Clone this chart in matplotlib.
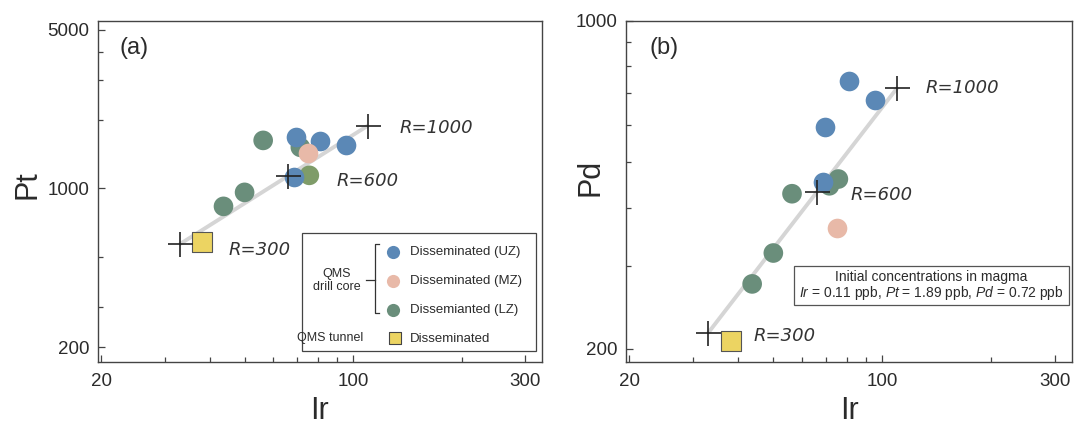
import matplotlib
matplotlib.use("Agg")
import matplotlib.pyplot as plt
from matplotlib.patches import Rectangle
from matplotlib.lines import Line2D
from matplotlib.ticker import NullFormatter

plt.rcParams["font.family"] = ["Liberation Sans", "DejaVu Sans"]
plt.rcParams["mathtext.fontset"] = "custom"
plt.rcParams["mathtext.rm"] = "Liberation Sans"
plt.rcParams["mathtext.it"] = "Liberation Sans:italic"

# ── データ ──────────────────────────────────────
IR_UZ = [69.3, 80.8, 95.3, 68.7]
PT_UZ = [1678, 1611, 1546, 1118]
PD_UZ = [594, 745, 679, 454]

IR_MZ = [74.8]
PT_MZ = [1426]
PD_MZ = [362]

IR_LZ = [43.7, 50.0, 56.3, 71.4, 75.6]
PT_LZ = [833, 960, 1626, 1516, 1141]
PD_LZ = [275, 320, 428, 445, 460]

IR_TUN = [38.2]
PT_TUN = [578]
PD_TUN = [208]

# R-factor モデル曲線
R_LABELS = ["R=300", "R=600", "R=1000"]
IR_R = [33, 66, 110]
PT_R = [567, 1134, 1890]
PD_R = [216, 432, 720]

X_TICKS = [20, 100, 300]
X_MINOR = [30, 40, 50, 60, 70, 80, 90, 200]
PT_TICKS = [200, 1000, 5000]
PT_MINOR = [300, 500, 2000, 3000, 4000]
PD_TICKS = [200, 1000]
PD_MINOR = [300, 400, 500, 600, 700, 800, 900]

# ── スタイル ─────────────────────────────────────────
C_UZ = "#5b88b6"
C_MZ = "#e8b9a8"
C_LZ = "#6a8e7b"
C_OLIVE = "#7f9c69"
C_TUN = "#ecd462"
C_LINE = "#d5d5d5"
C_TXT = "#2b2b2b"
LZ_COLORS_A = [C_LZ, C_LZ, C_LZ, C_LZ, C_OLIVE]
LZ_COLORS_B = [C_LZ] * 5
S_PT = 200
R_OFFS_A = [(35, -4), (35, -4), (23, -2)]
R_OFFS_B = [(33, -2), (24, -2), (20, 0)]

fig = plt.figure(figsize=(10.74, 4.29), dpi=100)
ax_a = fig.add_axes([0.0912, 0.1562, 0.4134, 0.7955])
ax_b = fig.add_axes([0.5829, 0.1562, 0.4153, 0.7955])


def draw_panel(ax, yu, ym, yl, yt, yr, lz_colors, r_offs):
    ax.set_xscale("log")
    ax.set_yscale("log")
    ax.plot(IR_R, yr, color=C_LINE, lw=2.8, zorder=2, solid_capstyle="butt")
    ax.scatter(IR_LZ, yl, s=S_PT, c=lz_colors, linewidths=0, zorder=3)
    ax.scatter(IR_UZ, yu, s=S_PT, c=C_UZ, linewidths=0, zorder=4)
    ax.scatter(IR_MZ, ym, s=S_PT, c=C_MZ, linewidths=0, zorder=5)
    ax.scatter(IR_TUN, yt, s=S_PT, c=C_TUN, marker="s",
               edgecolors="#555555", linewidths=0.8, zorder=5)
    ax.plot(IR_R, yr, ls="none", marker="+", ms=18, mew=1.2,
            color="#222222", zorder=6)
    for lab, x, y, off in zip(R_LABELS, IR_R, yr, r_offs):
        ax.annotate(lab, (x, y), xytext=off, textcoords="offset points",
                    ha="left", va="center", fontsize=13, style="italic",
                    family="DejaVu Sans", color="#333333")
    ax.set_xlim(19.6, 334)
    ax.set_xticks(X_TICKS)
    ax.set_xticklabels([str(v) for v in X_TICKS])
    ax.set_xticks(X_MINOR, minor=True)
    ax.xaxis.set_minor_formatter(NullFormatter())
    ax.tick_params(which="both", direction="in", colors="#444444",
                   labelcolor=C_TXT, labelsize=13.5, width=0.9)
    ax.tick_params(which="major", length=5)
    ax.tick_params(which="minor", length=3.5)
    ax.tick_params(axis="x", pad=8)
    ax.tick_params(axis="y", pad=6)
    ax.set_xlabel("Ir", fontsize=22, color=C_TXT, va="top")
    ax.xaxis.set_label_coords(0.5, -0.10)
    for sp in ax.spines.values():
        sp.set_color("#444444")
        sp.set_linewidth(1.0)


draw_panel(ax_a, PT_UZ, PT_MZ, PT_LZ, PT_TUN, PT_R, LZ_COLORS_A, R_OFFS_A)
ax_a.set_ylim(172, 5470)
ax_a.set_yticks(PT_TICKS)
ax_a.set_yticklabels([str(v) for v in PT_TICKS])
ax_a.set_yticks(PT_MINOR, minor=True)
ax_a.yaxis.set_minor_formatter(NullFormatter())
ax_a.set_ylabel("Pt", fontsize=22, color=C_TXT)
ax_a.yaxis.set_label_coords(-0.126, 0.52)
ax_a.text(0.081, 0.92, "(a)", transform=ax_a.transAxes, fontsize=17,
          ha="center", va="center", color=C_TXT)

draw_panel(ax_b, PD_UZ, PD_MZ, PD_LZ, PD_TUN, PD_R, LZ_COLORS_B, R_OFFS_B)
ax_b.set_ylim(187.5, 1000)
ax_b.set_yticks(PD_TICKS)
ax_b.set_yticklabels([str(v) for v in PD_TICKS])
ax_b.set_yticks(PD_MINOR, minor=True)
ax_b.yaxis.set_minor_formatter(NullFormatter())
ax_b.set_ylabel("Pd", fontsize=22, color=C_TXT)
ax_b.yaxis.set_label_coords(-0.045, 0.54)
ax_b.text(0.085, 0.92, "(b)", transform=ax_b.transAxes, fontsize=17,
          ha="center", va="center", color=C_TXT)

# ── 凡例 (a) ─────────────────────────────────────────
T = ax_a.transAxes
ax_a.add_patch(Rectangle((0.459, 0.032), 0.527, 0.346, transform=T,
                         fill=True, fc="white", ec="#444444", lw=0.9, zorder=7))
ax_a.text(0.538, 0.240, "QMS\ndrill core", transform=T, ha="center",
          va="center", fontsize=9, color=C_TXT, zorder=8, linespacing=1.1)
ax_a.add_line(Line2D([0.633, 0.624, 0.624, 0.633], [0.346, 0.346, 0.144, 0.144],
                     transform=T, color="#333333", lw=0.9, zorder=8))
ax_a.add_line(Line2D([0.604, 0.624], [0.240, 0.240], transform=T,
                     color="#333333", lw=0.9, zorder=8))
LEG_LABELS = ["Disseminated (UZ)", "Disseminated (MZ)", "Dissemianted (LZ)"]
LEG_COLORS = [C_UZ, C_MZ, C_LZ]
LEG_Y = [0.322, 0.237, 0.152]
for lab, col, yy in zip(LEG_LABELS, LEG_COLORS, LEG_Y):
    ax_a.scatter([0.664], [yy], s=90, c=col, linewidths=0, transform=T,
                 zorder=8, clip_on=False)
    ax_a.text(0.703, yy, lab, transform=T, ha="left", va="center",
              fontsize=9.5, color=C_TXT, zorder=8)
ax_a.text(0.523, 0.071, "QMS tunnel", transform=T, ha="center", va="center",
          fontsize=9, color=C_TXT, zorder=8)
ax_a.scatter([0.669], [0.071], s=80, c=C_TUN, marker="s", edgecolors="#444444",
             linewidths=0.8, transform=T, zorder=8, clip_on=False)
ax_a.text(0.703, 0.066, "Disseminated", transform=T, ha="left", va="center",
          fontsize=9.5, color=C_TXT, zorder=8)

# ── 注記 (b) ─────────────────────────────────────────
Tb = ax_b.transAxes
ax_b.add_patch(Rectangle((0.377, 0.167), 0.616, 0.114, transform=Tb,
                         fill=True, fc="white", ec="#555555", lw=0.9, zorder=7))
ax_b.text(0.685, 0.249, "Initial concentrations in magma", transform=Tb,
          ha="center", va="center", fontsize=10, color=C_TXT, zorder=8)
ax_b.text(0.685, 0.202,
          r"$\mathit{Ir}$ = 0.11 ppb, $\mathit{Pt}$ = 1.89 ppb, $\mathit{Pd}$ = 0.72 ppb",
          transform=Tb, ha="center", va="center", fontsize=10, color=C_TXT,
          zorder=8)

fig.savefig("out.png", dpi=100)
